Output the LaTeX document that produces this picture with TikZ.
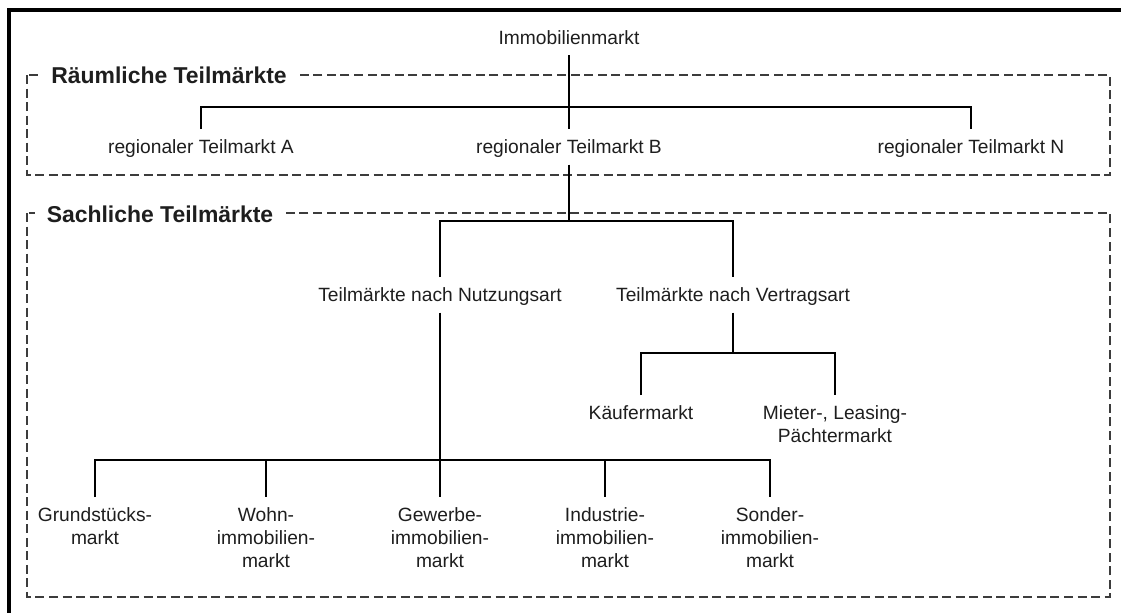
\documentclass[tikz,border=0pt]{standalone}
\usepackage{fontspec}
\setmainfont{Liberation Sans}
\definecolor{ink}{HTML}{1E1E1E}
\definecolor{dashgray}{HTML}{3C3C3C}
\begin{document}
\begin{tikzpicture}[x=0.75pt,y=-0.75pt,
  lbl/.style={font=\fontsize{14.4}{17.25}\selectfont, text=ink, inner xsep=2pt, inner ysep=8pt},
  single/.style={lbl, text height=10.3pt, text depth=0pt},
  multi/.style={lbl, align=center},
  title/.style={font=\bfseries\fontsize{17.2}{20}\selectfont, text=ink, fill=white, inner ysep=1pt},
  tree/.style={line width=0.9pt, draw=black},
  trunk/.style={line width=1.8pt, draw=black},
  region/.style={draw=dashgray, line width=1pt, dash pattern=on 6.75pt off 3.4pt},
  frame/.style={line width=2.4pt, draw=black}]

\useasboundingbox (0,0) rectangle (1121,612);
\clip (0,0) rectangle (1121,612);

% outer frame (runs past the right and bottom edges)
\draw[frame] (9,10) rectangle (1140,630);

% grouping boxes
\draw[region] (27,75) rectangle (1110,175);
\draw[region] (27,213) rectangle (1110,597);
\node[title, inner xsep=10pt, anchor=base] (traum) at (169,83) {Räumliche Teilmärkte};
\node[title, inner xsep=8.5pt, anchor=base] (tsach) at (160,222) {Sachliche Teilmärkte};

% root
\node[single, anchor=south] (immo) at (569,55) {Immobilienmarkt};

% regional markets
\node[single, anchor=north] (regA) at (201,129) {regionaler Teilmarkt A};
\node[single, anchor=north] (regB) at (569,129) {regionaler Teilmarkt B};
\node[single, anchor=north] (regN) at (971,129) {regionaler Teilmarkt N};
\coordinate (j1) at (569,107);

% sub-markets by use and by contract
\node[single, anchor=north] (nutz) at (440,277) {Teilmärkte nach Nutzungsart};
\node[single, anchor=north] (vert) at (733,277) {Teilmärkte nach Vertragsart};
\coordinate (j2) at (569,221);

\node[multi, anchor=north] (kauf) at (641,395) {Käufermarkt};
\node[multi, anchor=north] (miet) at (835,395) {Mieter-, Leasing-\\Pächtermarkt};
\coordinate (j3) at (733,353);

\node[multi, anchor=north] (grund) at (95,497) {Grundstücks-\\markt};
\node[multi, anchor=north] (wohn) at (266,497) {Wohn-\\immobilien-\\markt};
\node[multi, anchor=north] (gew) at (440,497) {Gewerbe-\\immobilien-\\markt};
\node[multi, anchor=north] (ind) at (605,497) {Industrie-\\immobilien-\\markt};
\node[multi, anchor=north] (sond) at (770,497) {Sonder-\\immobilien-\\markt};
\coordinate (j4) at (440,460);

% connectors
\draw[tree] (immo.south) -- (regB.north);
\draw[tree] (regA.north) |- (j1) -| (regN.north);

\draw[tree] (regB.south) -- (j2);
\draw[tree] (nutz.north) |- (j2) -| (vert.north);

\draw[tree] (vert.south) -- (j3);
\draw[tree] (kauf.north) |- (j3) -| (miet.north);

\draw[trunk] (nutz.south) -- (j4) -- (j4 -| ind.north);
\draw[tree] (grund.north) |- (j4) -| (sond.north);
\foreach \n in {wohn,gew,ind}
  \draw[tree] (j4 -| \n.north) -- (\n.north);
\end{tikzpicture}
\end{document}
